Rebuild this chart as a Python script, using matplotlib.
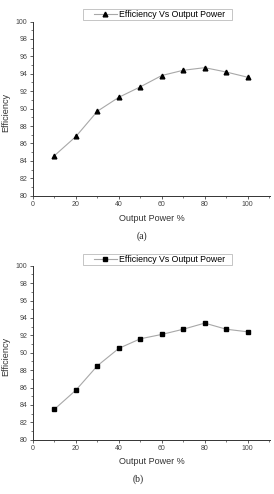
import matplotlib
matplotlib.use("Agg")
import matplotlib.pyplot as plt
from matplotlib.ticker import MultipleLocator
from matplotlib.patches import Rectangle

plt.rcParams['font.family'] = ['Liberation Sans', 'DejaVu Sans']

power = [10, 20, 30, 40, 50, 60, 70, 80, 90, 100]
eff_a = [84.6, 86.8, 89.7, 91.3, 92.5, 93.8, 94.4, 94.7, 94.2, 93.6]
eff_b = [83.5, 85.7, 88.5, 90.5, 91.6, 92.1, 92.7, 93.4, 92.7, 92.4]
legend_label = "Efficiency Vs Output Power"
xlabel = "Output Power %"
ylabel = "Efficiency"
captions = ["(a)", "(b)"]

W, H = 274, 494
fig = plt.figure(figsize=(W / 100, H / 100), dpi=100)

def px_axes(left, top, right, bottom):
    return fig.add_axes([left / W, 1 - bottom / H, (right - left) / W, (bottom - top) / H])

specs = [
    (eff_a, '^', (21.5, 195.7), 218.3, (83, 9.3, 232, 20.3)),
    (eff_b, 's', (265.7, 439.7), 461.0, (83, 254.3, 232, 265.3)),
]

for vals, mk, (top, bot), xl_y, lbox in specs:
    ax = px_axes(33, top, 270, bot)
    ax.plot(power, vals, color='#a8a8a8', lw=0.8, marker=mk, ms=3.4,
            mfc='black', mec='black', label=legend_label, zorder=3)
    ax.set_xlim(0, 110.4)
    ax.set_ylim(80, 100)
    ax.xaxis.set_major_locator(MultipleLocator(20))
    ax.xaxis.set_minor_locator(MultipleLocator(10))
    ax.yaxis.set_major_locator(MultipleLocator(2))
    ax.yaxis.set_minor_locator(MultipleLocator(1))
    for s in ['top', 'right']:
        ax.spines[s].set_visible(False)
    for s in ['left', 'bottom']:
        ax.spines[s].set_color('#333333')
        ax.spines[s].set_linewidth(0.7)
    ax.tick_params(which='major', direction='out', length=2.5, width=0.6,
                   labelsize=5.0, colors='#444444', pad=1.5)
    ax.tick_params(which='minor', direction='out', length=1.5, width=0.5, colors='#444444')
    ax.patch.set_alpha(0)

    lx0, ly0, lx1, ly1 = lbox
    fig.patches.append(Rectangle((lx0 / W, 1 - ly1 / H), (lx1 - lx0) / W, (ly1 - ly0) / H,
                                 transform=fig.transFigure, fill=False,
                                 edgecolor='#bbbbbb', lw=0.6))
    cx = ((lx0 + lx1) / 2 + 2 - 33) / (270 - 33)
    cy = (bot - (ly0 + ly1) / 2) / (bot - top)
    leg = ax.legend(loc='center', bbox_to_anchor=(cx, cy), fontsize=6.3, frameon=False,
                    handlelength=2.6, handletextpad=0.25, borderpad=0, borderaxespad=0)

    fig.text(151.7 / W, 1 - xl_y / H, xlabel, ha='center', va='center', fontsize=6.5, color='#333333')
    fig.text(6 / W, 1 - ((top + bot) / 2 + 4) / H, ylabel, ha='center', va='center',
             rotation=90, fontsize=6.6, color='#333333')

fig.text(142 / W, 1 - 236.5 / H, captions[0], ha='center', va='center', fontsize=7,
         family='Liberation Serif', color='#222222')
fig.text(138 / W, 1 - 479.3 / H, captions[1], ha='center', va='center', fontsize=7,
         family='Liberation Serif', color='#222222')

fig.savefig("out.png", dpi=100)
